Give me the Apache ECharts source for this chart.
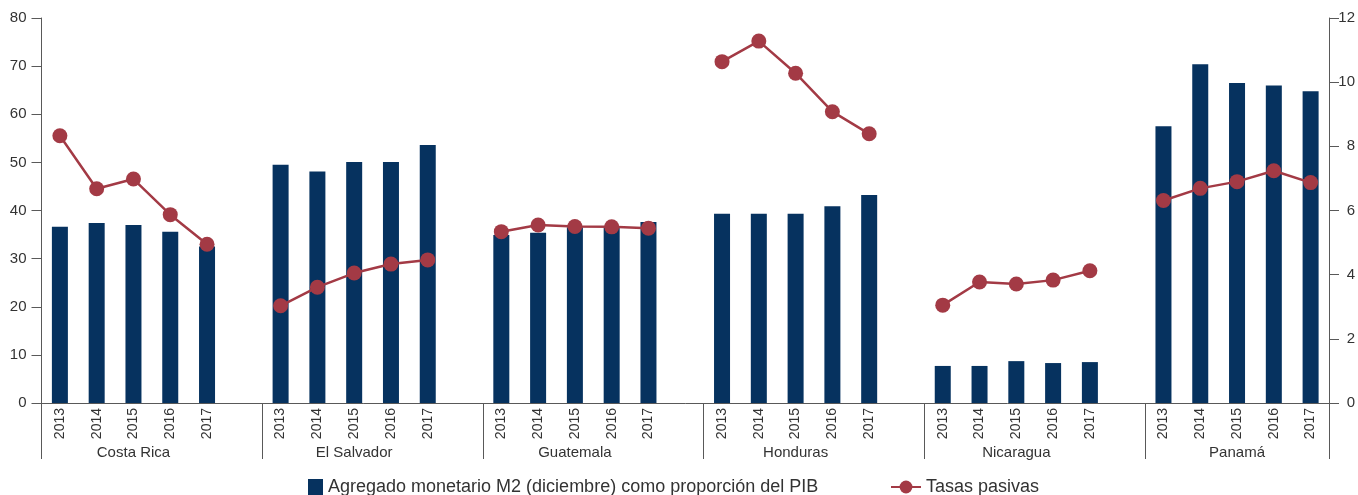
<!DOCTYPE html>
<html><head><meta charset="utf-8">
<script src="https://cdn.jsdelivr.net/npm/echarts@6/dist/echarts.min.js"></script>
<style>html,body{margin:0;padding:0;background:#fff}#c{width:1358px;height:495px}</style>
</head><body><div id="c"></div>
<script>
const countries = ['Costa Rica', 'El Salvador', 'Guatemala', 'Honduras', 'Nicaragua', 'Panamá'];
const years = ['2013', '2014', '2015', '2016', '2017'];

// Agregado monetario M2 (% del PIB), left axis
const m2CostaRica  = [36.6, 37.4, 37.0, 35.6, 32.5];
const m2ElSalvador = [49.5, 48.1, 50.1, 50.1, 53.6];
const m2Guatemala  = [34.9, 35.4, 36.5, 36.6, 37.6];
const m2Honduras   = [39.3, 39.3, 39.3, 40.9, 43.2];
const m2Nicaragua  = [7.7, 7.7, 8.7, 8.3, 8.5];
const m2Panama     = [57.5, 70.4, 66.5, 66.0, 64.8];

// Tasas pasivas (%), right axis
const tpCostaRica  = [8.33, 6.68, 6.98, 5.87, 4.95];
const tpElSalvador = [3.03, 3.61, 4.05, 4.33, 4.46];
const tpGuatemala  = [5.34, 5.55, 5.50, 5.49, 5.45];
const tpHonduras   = [10.64, 11.28, 10.28, 9.08, 8.39];
const tpNicaragua  = [3.05, 3.77, 3.71, 3.83, 4.12];
const tpPanama     = [6.31, 6.69, 6.90, 7.24, 6.87];

const leftAxis = { min: 0, max: 80, interval: 10 };
const rightAxis = { min: 0, max: 12, interval: 2 };

const barName = 'Agregado monetario M2 (diciembre) como proporción del PIB';
const lineName = 'Tasas pasivas';

const m2Groups = [m2CostaRica, m2ElSalvador, m2Guatemala, m2Honduras, m2Nicaragua, m2Panama];
const tpGroups = [tpCostaRica, tpElSalvador, tpGuatemala, tpHonduras, tpNicaragua, tpPanama];

const yearCats = [], groupCats = [], barData = [], lineData = [];
countries.forEach(function (c, k) {
  years.forEach(function (y, j) {
    yearCats.push(y);
    groupCats.push(j === 2 ? c : '');
    barData.push(m2Groups[k][j]);
    lineData.push(tpGroups[k][j]);
  });
  if (k < countries.length - 1) {
    yearCats.push(' ');
    groupCats.push('');
    barData.push(null);
    lineData.push(null);
  }
});

const FONT = "'Liberation Sans', Arial, sans-serif";
const AX = '#595959';
const TXT = '#333333';
const NAVY = '#06325f';
const RED = '#a33a45';

const chart = echarts.init(document.getElementById('c'), null, { renderer: 'canvas' });
chart.setOption({
  animation: false,
  textStyle: { fontFamily: FONT },
  grid: { left: 41.5, right: 29, top: 18, bottom: 92, containLabel: false },
  legend: [
    {
      data: [{ name: barName, icon: 'rect' }],
      left: 303, top: 473, itemWidth: 15, itemHeight: 16, itemGap: 10,
      textStyle: { fontSize: 18, color: TXT, fontFamily: FONT }
    },
    {
      data: [lineName],
      left: 885, top: 473, itemWidth: 30, itemHeight: 16,
      textStyle: { fontSize: 18, color: TXT, fontFamily: FONT }
    }
  ],
  xAxis: [
    {
      type: 'category', data: yearCats, boundaryGap: true, position: 'bottom',
      axisLine: { show: true, lineStyle: { color: AX, width: 1 } },
      axisTick: { show: false },
      axisLabel: { interval: 0, rotate: 90, fontSize: 14, color: TXT, margin: 5, fontFamily: FONT }
    },
    {
      type: 'category', data: groupCats, boundaryGap: true, position: 'bottom',
      axisLine: { show: false },
      axisTick: { show: true, length: 56, interval: function (i) { return i % 6 === 0; }, lineStyle: { color: AX, width: 1 } },
      axisLabel: { interval: 0, fontSize: 15, color: TXT, margin: 42, fontFamily: FONT }
    }
  ],
  yAxis: [
    {
      type: 'value', position: 'left', min: leftAxis.min, max: leftAxis.max, interval: leftAxis.interval,
      axisLine: { show: true, lineStyle: { color: AX, width: 1 } },
      axisTick: { show: true, length: 10, lineStyle: { color: AX } },
      splitLine: { show: false },
      axisLabel: { fontSize: 15, color: TXT, margin: 15, fontFamily: FONT }
    },
    {
      type: 'value', position: 'right', min: rightAxis.min, max: rightAxis.max, interval: rightAxis.interval,
      axisLine: { show: true, lineStyle: { color: AX, width: 1 } },
      axisTick: { show: true, length: 10, lineStyle: { color: AX } },
      splitLine: { show: false },
      axisLabel: { fontSize: 15, color: TXT, margin: 26, align: 'right', fontFamily: FONT }
    }
  ],
  series: [
    {
      name: barName, type: 'bar', xAxisIndex: 0, yAxisIndex: 0, data: barData,
      barWidth: 16, itemStyle: { color: NAVY }
    },
    {
      name: lineName, type: 'line', xAxisIndex: 0, yAxisIndex: 1, data: lineData,
      connectNulls: false, symbol: 'circle', symbolSize: 15, showSymbol: true,
      lineStyle: { color: RED, width: 2.5 }, itemStyle: { color: RED }, z: 5
    }
  ]
});
</script>
</body></html>
